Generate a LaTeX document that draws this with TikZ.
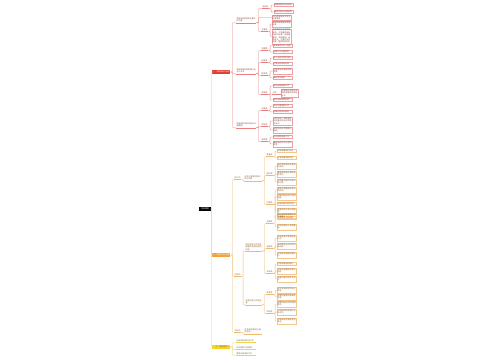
\documentclass[tikz,border=0pt]{standalone}
\usepackage{fontspec}
\newfontfamily\cjk{Noto Sans CJK SC}
\XeTeXlinebreaklocale "zh"
\XeTeXlinebreakskip=0pt plus 1pt
\definecolor{rM}{HTML}{E03C31}
\definecolor{rL}{HTML}{E88080}
\definecolor{rB}{HTML}{F0A0A0}
\definecolor{rT}{HTML}{8A4040}
\definecolor{rP}{HTML}{F0B0B0}
\definecolor{oM}{HTML}{F2A23A}
\definecolor{oL}{HTML}{F0B870}
\definecolor{oB}{HTML}{F3C690}
\definecolor{oT}{HTML}{8A5C28}
\definecolor{yM}{HTML}{F5D327}
\definecolor{yL}{HTML}{EAD55A}
\definecolor{yT}{HTML}{857315}
\tikzset{
 base/.style={font=\cjk\fontsize{1.9}{2.4}\selectfont, inner sep=0.5pt, align=left, anchor=west},
 rootn/.style={base, fill=black, text=white, minimum width=12pt, minimum height=4.2pt, anchor=center, align=center},
 mainbox/.style={base, fill=#1, text=white, minimum width=18pt, minimum height=4.2pt, align=center},
 ulR/.style={base, text=rT, text width=#1, append after command={(\tikzlastnode.south west) edge[draw=rL, line width=0.25pt] (\tikzlastnode.south east)}}, ulR/.default=19pt,
 ulO/.style={base, text=oT, text width=#1, append after command={(\tikzlastnode.south west) edge[draw=oL, line width=0.25pt] (\tikzlastnode.south east)}}, ulO/.default=17pt,
 ulY/.style={base, text=yT, text width=#1, append after command={(\tikzlastnode.south west) edge[draw=yL, line width=0.25pt] (\tikzlastnode.south east)}}, ulY/.default=19pt,
 labR/.style={base, text=rT, append after command={(\tikzlastnode.south west) edge[draw=rL, line width=0.25pt] (\tikzlastnode.south east)}},
 labO/.style={base, text=oT, append after command={(\tikzlastnode.south west) edge[draw=oL, line width=0.25pt] (\tikzlastnode.south east)}},
 lfR/.style={base, draw=rB, line width=0.2pt, text=rT, text width=#1, inner sep=0.6pt}, lfR/.default=18pt,
 lfO/.style={base, draw=oB, line width=0.2pt, text=oT, text width=#1, inner sep=0.6pt}, lfO/.default=18pt,
 cR/.style={draw=rL, line width=0.3pt, rounded corners=0.8pt},
 cP/.style={draw=rP, line width=0.4pt, rounded corners=0.8pt},
 cO/.style={draw=oL, line width=0.3pt, rounded corners=0.8pt},
 cY/.style={draw=yL, line width=0.3pt, rounded corners=0.8pt},
}
\newcommand\cn[3]{\draw[#1] (#2) -- ++(2,0) |- (#3);}
\begin{document}
\begin{tikzpicture}[x=1pt,y=-1pt]
\fill[white] (0,0) rectangle (500,360);
\useasboundingbox (0,0) rectangle (500,360);

% root and main branches
\node[rootn] (root) at (205,209) {项目管理};
\node[mainbox=rM] (R) at (212,72) {一、项目启动与规划};
\node[mainbox=oM] (O) at (212,255) {二、项目执行与控制};
\node[mainbox=yM, text=yT] (Y) at (212,347) {三、项目收尾};
\draw[cP] (root.east) -- ++(0.5,0) |- (R.west);
\draw[cO] (root.east) -- ++(0.5,0) |- (O.west);
\draw[cY] (root.east) -- ++(0.5,0) |- (Y.west);

% ---------------- red branch
\node[ulR] (A) at (236,20) {项目启动阶段的主要工作内容};
\node[ulR] (B) at (236,71) {项目规划阶段的核心任务与方法};
\node[ulR] (C) at (236,125) {项目规划中的风险与沟通管理};
\cn{cR}{R.east}{A.south west}
\cn{cR}{R.east}{B.south west}
\cn{cR}{R.east}{C.south west}

\node[labR] (A1) at (262,7) {定目标};
\node[lfR] (A1a) at (274,5) {明确项目的总体目标};
\node[lfR] (A1b) at (274,12) {确定项目的范围边界};
\node[lfR] (A2) at (272,17.5) {识别项目相关方并分析其需求};
\node[labR] (A3) at (261,30) {立章程};
\node[lfR] (A3a) at (272,24) {编制项目章程并获得批准};
\node[lfR] (A3b) at (272,36.2) {项目章程应包括项目目的、可测量的目标和成功标准、高层级需求、项目描述、边界定义、主要可交付成果、整体项目风险};
\cn{cR}{A.south east}{A1.south west}
\cn{cR}{A.south east}{A2.west}
\cn{cR}{A.south east}{A3.south west}
\cn{cR}{A1.south east}{A1a.west}
\cn{cR}{A1.south east}{A1b.west}
\cn{cR}{A3.south east}{A3a.west}
\cn{cR}{A3.south east}{A3b.west}

\node[labR] (B1) at (261,49) {范围类};
\node[lfR] (B1a) at (273,45.5) {收集需求并定义范围};
\node[lfR] (B1b) at (273,52) {创建工作分解结构};
\node[labR] (B2) at (261,61) {进度类};
\node[lfR] (B2a) at (273,58) {定义活动并排列顺序};
\node[lfR] (B2b) at (273,64) {估算活动持续时间};
\node[labR] (B3) at (261,74) {成本类};
\node[lfR] (B3a) at (273,71) {估算成本并制定项目预算};
\node[lfR] (B3b) at (273,78) {确定成本基准};
\node[labR] (B4) at (261,93) {资源类};
\node[lfR] (B4a) at (273,86) {规划资源管理方式};
\node[labR] (B4b) at (272,93) {人员};
\node[lfR=16pt] (B4c) at (281,93) {估算团队资源与实物资源需求并制定计划};
\node[lfR] (B4d) at (273,100) {获取项目所需资源};
\cn{cR}{B.south east}{B1.south west}
\cn{cR}{B.south east}{B2.south west}
\cn{cR}{B.south east}{B3.south west}
\cn{cR}{B.south east}{B4.south west}
\cn{cR}{B1.south east}{B1a.west}
\cn{cR}{B1.south east}{B1b.west}
\cn{cR}{B2.south east}{B2a.west}
\cn{cR}{B2.south east}{B2b.west}
\cn{cR}{B3.south east}{B3a.west}
\cn{cR}{B3.south east}{B3b.west}
\cn{cR}{B4.south east}{B4a.west}
\cn{cR}{B4.south east}{B4b.south west}
\cn{cR}{B4.south east}{B4d.west}
\draw[cR] (B4b.south east) -- (B4c.west |- B4b.south east);

\node[labR] (C1) at (261,109) {沟通类};
\node[lfR] (C1a) at (273,106) {规划沟通管理方式};
\node[lfR] (C1b) at (273,112) {明确信息发布渠道};
\node[labR] (C2) at (261,125) {风险类};
\node[lfR] (C2a) at (273,121) {识别风险、实施定性和定量风险分析并规划应对};
\node[lfR] (C2b) at (273,130) {规划风险应对策略与措施};
\node[labR] (C3) at (261,140) {采购类};
\node[lfR] (C3a) at (273,137) {规划采购管理工作};
\node[lfR] (C3b) at (273,144) {确定采购方式与合同类型};
\cn{cR}{C.south east}{C1.south west}
\cn{cR}{C.south east}{C2.south west}
\cn{cR}{C.south east}{C3.south west}
\cn{cR}{C1.south east}{C1a.west}
\cn{cR}{C1.south east}{C1b.west}
\cn{cR}{C2.south east}{C2a.west}
\cn{cR}{C2.south east}{C2b.west}
\cn{cR}{C3.south east}{C3a.west}
\cn{cR}{C3.south east}{C3b.west}

% ---------------- orange branch
\node[labO] (O1l) at (234,178) {执行中};
\node[ulO] (O1) at (244,178) {指导与管理项目工作的内容};
\node[labO] (O2l) at (234,275) {控制中};
\node[ulO=16pt] (O2a) at (245,247) {监控项目工作和实施整体变更控制的过程};
\node[ulO=16pt] (O2b) at (245,302) {变更控制与风险监督};
\node[labO] (O3l) at (234,331) {总结中};
\node[ulO] (O3) at (244,331) {项目绩效报告与经验总结};
\cn{cO}{O.east}{O1l.south west}
\cn{cO}{O.east}{O2l.south west}
\cn{cO}{O.east}{O3l.south west}
\cn{cO}{O1l.south east}{O1.south west}
\cn{cO}{O2l.south east}{O2a.south west}
\cn{cO}{O2l.south east}{O2b.south west}
\cn{cO}{O3l.south east}{O3.south west}

\node[labO] (O1a) at (266,155) {质量类};
\node[lfO] (O1a1) at (277,151) {实施质量保证活动};
\node[lfO] (O1a2) at (277,158) {开展质量控制检查};
\node[labO] (O1b) at (266,174) {团队类};
\node[lfO] (O1b1) at (277,166) {建设项目团队提高团队绩效};
\node[lfO] (O1b2) at (277,174) {管理项目团队跟踪成员表现};
\node[lfO] (O1b3) at (277,182) {协调解决团队内部冲突问题};
\node[labO] (O1c) at (266,203) {沟通类};
\node[lfO] (O1c1) at (277,190) {管理沟通确保信息及时传递};
\node[lfO] (O1c2) at (277,197) {实施风险应对计划和措施};
\node[lfO] (O1c3) at (277,204) {实施采购并选择卖方};
\node[lfO] (O1c4) at (277,211) {管理相关方参与和期望};
\node[lfO] (O1c5) at (277,218) {监督项目工作进展};
\cn{cO}{O1.south east}{O1a.south west}
\cn{cO}{O1.south east}{O1b.south west}
\cn{cO}{O1.south east}{O1c.south west}
\cn{cO}{O1a.south east}{O1a1.west}
\cn{cO}{O1a.south east}{O1a2.west}
\cn{cO}{O1b.south east}{O1b1.west}
\cn{cO}{O1b.south east}{O1b2.west}
\cn{cO}{O1b.south east}{O1b3.west}
\cn{cO}{O1c.south east}{O1c1.west}
\cn{cO}{O1c.south east}{O1c2.west}
\cn{cO}{O1c.south east}{O1c3.west}
\cn{cO}{O1c.south east}{O1c4.west}
\cn{cO}{O1c.south east}{O1c5.west}

\node[labO] (P1) at (266,222) {范围类};
\node[lfO] (P1a) at (277,215.5) {确认范围并验收可交付成果};
\node[lfO] (P1b) at (277,227) {控制范围防止范围蔓延};
\node[labO] (P2) at (266,247) {进度类};
\node[lfO] (P2a) at (277,238) {控制进度并更新进度计划};
\node[lfO] (P2b) at (277,246) {采用挣值分析评估项目绩效};
\node[lfO] (P2c) at (277,255) {控制成本确保预算执行};
\node[labO] (P3) at (266,272) {资源类};
\node[lfO] (P3a) at (277,264) {控制资源使用情况};
\node[lfO] (P3b) at (277,271) {控制资源确保资源可用性};
\node[lfO] (P3c) at (277,279) {监督沟通与相关方参与};
\cn{cO}{O2a.south east}{P1.south west}
\cn{cO}{O2a.south east}{P2.south west}
\cn{cO}{O2a.south east}{P3.south west}
\cn{cO}{P1.south east}{P1a.west}
\cn{cO}{P1.south east}{P1b.west}
\cn{cO}{P2.south east}{P2a.west}
\cn{cO}{P2.south east}{P2b.west}
\cn{cO}{P2.south east}{P2c.west}
\cn{cO}{P3.south east}{P3a.west}
\cn{cO}{P3.south east}{P3b.west}
\cn{cO}{P3.south east}{P3c.west}

\node[labO] (Q1) at (266,293) {变更类};
\node[lfO] (Q1a) at (277,290) {提交变更请求并进行评审};
\node[lfO] (Q1b) at (277,297) {变更控制委员会审批变更};
\node[labO] (Q2) at (266,312) {风险类};
\node[lfO] (Q2a) at (277,304) {监督风险应对的实施情况};
\node[lfO] (Q2b) at (277,312) {识别新风险并进行分析评估};
\node[lfO] (Q2c) at (277,321) {控制采购并管理合同关系};
\cn{cO}{O2b.south east}{Q1.south west}
\cn{cO}{O2b.south east}{Q2.south west}
\cn{cO}{Q1.south east}{Q1a.west}
\cn{cO}{Q1.south east}{Q1b.west}
\cn{cO}{Q2.south east}{Q2a.west}
\cn{cO}{Q2.south east}{Q2b.west}
\cn{cO}{Q2.south east}{Q2c.west}

% ---------------- yellow branch
\node[ulY] (Y1) at (236,341) {结束项目或阶段工作};
\node[ulY] (Y2) at (236,348) {移交最终产品成果};
\node[ulY] (Y3) at (236,354) {整理归档项目文件};
\cn{cY}{Y.east}{Y1.south west}
\cn{cY}{Y.east}{Y2.south west}
\cn{cY}{Y.east}{Y3.south west}
\end{tikzpicture}
\end{document}
